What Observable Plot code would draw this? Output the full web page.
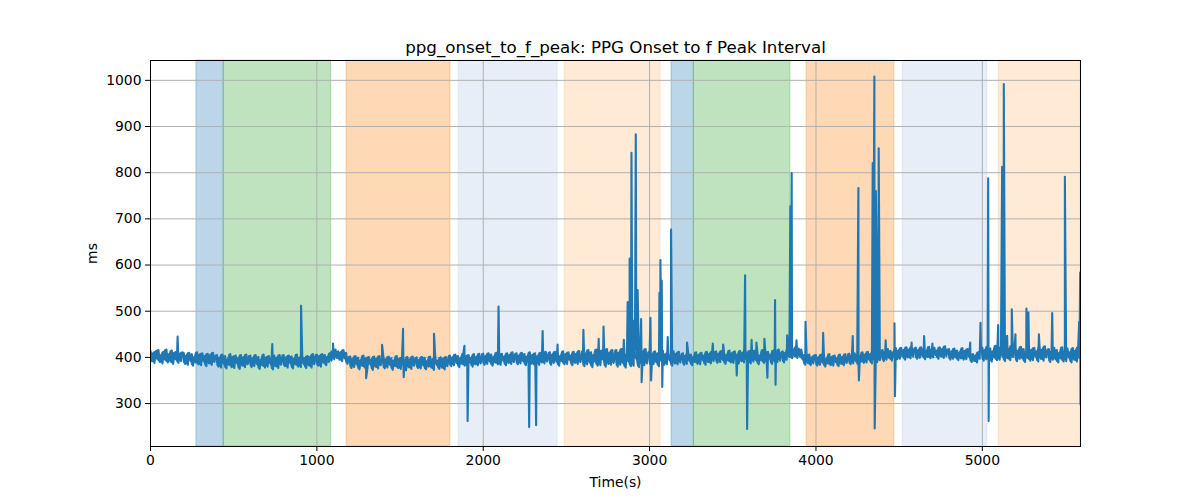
<!DOCTYPE html>
<html>
<head>
<meta charset="utf-8">
<script src="https://cdn.jsdelivr.net/npm/d3@7"></script>
<script src="https://cdn.jsdelivr.net/npm/@observablehq/plot@0.6"></script>
<style>
  html, body { margin: 0; padding: 0; background: #fff; }
  #chart { width: 1200px; height: 500px; }
</style>
</head>
<body>
<div id="chart"></div>
<script>
const titleText = "ppg_onset_to_f_peak: PPG Onset to f Peak Interval";
const xLabel = "Time(s)";
const yLabel = "ms";
const xTicks = [0, 1000, 2000, 3000, 4000, 5000];
const yTicks = [300, 400, 500, 600, 700, 800, 900, 1000];

// baseline samples every 8 s, starting at t = 0 (one row = 200 s)
const baseStep = 8;
const baseValues = [
  414,392,409,388,413,397,416,390,405,387,412,395,417,389,407,391,415,386,410,396,413,388,408,392,411,
  409,386,404,384,410,393,407,382,401,389,411,385,406,383,409,392,403,381,408,387,405,384,410,390,402,
  405,380,399,378,406,387,403,376,396,384,407,379,401,377,404,388,398,375,405,382,400,379,406,385,397,
  404,379,398,381,405,386,401,375,395,383,406,378,400,380,403,387,397,374,404,381,399,377,405,384,396,
  405,381,400,378,404,388,402,376,397,385,406,380,399,379,405,386,398,377,403,383,401,378,407,385,398,
  406,382,403,380,407,389,405,383,401,390,409,393,414,396,417,399,413,395,411,392,416,398,410,386,399,
  402,377,397,379,403,385,399,374,394,382,404,378,398,376,401,386,395,373,402,380,397,376,403,383,394,
  401,376,396,378,402,384,398,373,393,381,403,377,397,375,400,385,394,372,401,379,396,375,402,382,393,
  400,377,395,376,401,383,399,374,392,380,402,378,396,373,399,384,393,375,400,378,397,374,401,381,394,
  404,381,400,383,406,388,403,379,398,386,408,382,402,381,405,390,399,380,407,385,401,383,408,387,399,
  408,384,403,386,409,391,406,382,401,389,410,385,404,384,408,393,402,383,409,388,405,386,411,390,401,
  409,385,404,387,410,392,407,383,402,390,411,386,405,385,409,394,403,384,410,389,406,387,412,391,402,
  411,384,406,388,412,391,409,382,403,392,413,385,407,386,411,395,404,383,412,388,408,386,414,390,403,
  414,381,408,385,416,389,411,379,405,391,417,382,409,383,415,396,403,380,418,386,410,384,416,388,404,
  416,380,410,384,418,388,412,378,407,392,419,381,411,382,417,397,405,379,420,385,412,383,418,387,406,
  412,383,406,386,413,390,409,381,403,391,414,384,407,385,411,394,402,382,413,387,408,385,412,389,401,
  409,384,404,386,410,392,406,383,401,390,411,386,405,385,410,394,404,384,412,390,408,387,413,392,405,
  413,388,408,390,414,395,410,386,405,393,415,389,409,388,413,397,406,387,414,392,410,389,416,394,405,
  414,387,409,391,415,394,411,385,404,394,416,388,410,389,412,398,405,386,415,391,409,390,417,393,406,
  413,389,410,395,418,401,421,398,416,403,422,399,419,402,417,396,405,384,401,388,406,383,400,387,404,
  405,382,400,384,406,389,402,380,397,387,407,383,401,382,404,390,398,381,406,386,401,383,407,388,399,
  408,385,404,387,409,392,406,383,402,391,411,388,406,389,412,395,407,387,414,392,409,390,415,394,408,
  416,392,412,395,418,399,414,393,411,400,420,396,415,397,421,403,416,395,422,400,417,398,423,402,416,
  421,397,416,399,422,403,418,396,414,401,423,398,417,400,421,405,415,397,422,402,418,399,424,403,416,
  418,395,413,397,419,400,415,394,411,398,420,395,414,396,418,402,409,390,407,392,404,389,411,397,414,
  421,393,416,396,424,399,419,391,413,400,425,394,417,395,422,403,414,392,423,398,418,394,425,401,413,
  420,392,415,397,423,398,418,390,412,399,424,393,416,394,421,402,413,391,422,397,417,393,424,400,412,
  418,390,413,395,421,396,416,389,410,398,422,391,414,392,419,400,411,389,420,395,415,391,422,398,410
];

// isolated spikes (time in s, value in ms)
const spikeTimes = [
  163, 732, 905, 1097, 1296, 1392, 1518, 1522, 1704, 1887, 1906, 2092, 2276, 2318,
  2357, 2447, 2602, 2694, 2723, 2845, 2868, 2880, 2891, 2905, 2917, 2928, 2949, 2952,
  3005, 3009, 3059, 3065, 3073, 3076, 3109, 3129, 3225, 3380, 3442, 3524, 3574, 3586,
  3613, 3642, 3690, 3708, 3754, 3757, 3827, 3846, 3854, 3883, 3937, 4043, 4221, 4255,
  4258, 4341, 4351, 4353, 4360, 4365, 4377, 4419, 4472, 4475, 4575, 4650, 4700, 4927,
  4989, 5035, 5038, 5095, 5119, 5129, 5149, 5177, 5199, 5265, 5277, 5340, 5420, 5496,
  5582, 5588, 5590
];
const spikeValues = [
  445, 429, 512, 430, 355, 427, 462, 357, 451, 425, 262, 510, 249, 253,
  457, 428, 460, 440, 467, 438, 520, 614, 843, 479, 883, 546, 483, 346,
  486, 350, 540, 611, 566, 336, 444, 677, 432, 430, 428, 361, 578, 245,
  438, 432, 440, 356, 524, 341, 448, 727, 799, 437, 477, 453, 446, 767,
  350, 821, 1008, 246, 760, 632, 853, 437, 474, 316, 432, 446, 430, 432,
  475, 788, 262, 470, 813, 992, 447, 504, 450, 506, 497, 450, 496, 791,
  477, 584, 298
];

// shaded intervals
const spanStarts = [276, 440, 1178, 1852, 2489, 3132, 3266, 3943, 4521, 5098];
const spanEnds   = [440, 1086, 1803, 2447, 3066, 3266, 3846, 4471, 5030, 5590];
const spanColors = ["#1f77b4", "#2ca02c", "#ff7f0e", "#aec7e8", "#ffbb78",
                    "#1f77b4", "#2ca02c", "#ff7f0e", "#aec7e8", "#ffbb78"];

const xDomain = [0, 5590];
const yDomain = [207, 1043];

const series = baseValues.map((v, i) => ({t: i * baseStep, v}))
  .concat(spikeTimes.map((t, i) => ({t, v: spikeValues[i]})))
  .sort((a, b) => a.t - b.t);
// envelope of the dense trace between neighbouring baseline samples (fills the zigzag)
const band = baseValues.slice(0, -1).map((v, i) => ({
  t: i * baseStep,
  lo: Math.min(v, baseValues[i + 1]),
  hi: Math.max(v, baseValues[i + 1])
}));
const spans = spanStarts.map((s, i) => ({x1: s, x2: spanEnds[i], c: spanColors[i]}));

const chart = Plot.plot({
  width: 1200,
  height: 500,
  marginLeft: 150,
  marginRight: 120,
  marginTop: 60,
  marginBottom: 54,
  style: {fontFamily: "'DejaVu Sans', sans-serif", fontSize: "13.9px", color: "black", background: "white"},
  x: {domain: xDomain},
  y: {domain: yDomain},
  marks: [
    Plot.rect(spans, {x1: "x1", x2: "x2", fill: "c", fillOpacity: 0.3, stroke: "c", strokeOpacity: 0.3, strokeWidth: 1}),
    Plot.gridX(xTicks, {stroke: "#b0b0b0", strokeOpacity: 1, strokeWidth: 1}),
    Plot.gridY(yTicks, {stroke: "#b0b0b0", strokeOpacity: 1, strokeWidth: 1}),
    Plot.areaY(band, {x: "t", y1: "lo", y2: "hi", fill: "#1f77b4", fillOpacity: 1, clip: true}),
    Plot.line(series, {x: "t", y: "v", stroke: "#1f77b4", strokeWidth: 2.1, clip: true, strokeLinejoin: "round"}),
    Plot.frame({stroke: "black", strokeWidth: 1}),
    Plot.axisX(xTicks, {tickSize: 5, tickPadding: 4, tickFormat: d => String(d), label: xLabel, labelAnchor: "center", labelArrow: "none", labelOffset: 40, fontSize: 13.9}),
    Plot.axisY(yTicks, {tickSize: 5, tickPadding: 4, tickFormat: d => String(d), label: yLabel, labelAnchor: "center", labelArrow: "none", labelOffset: 63, fontSize: 13.9}),
    Plot.text([titleText], {frameAnchor: "top", dy: -8, lineAnchor: "bottom", fontSize: 16.7})
  ]
});
document.getElementById("chart").appendChild(chart);
</script>
</body>
</html>
